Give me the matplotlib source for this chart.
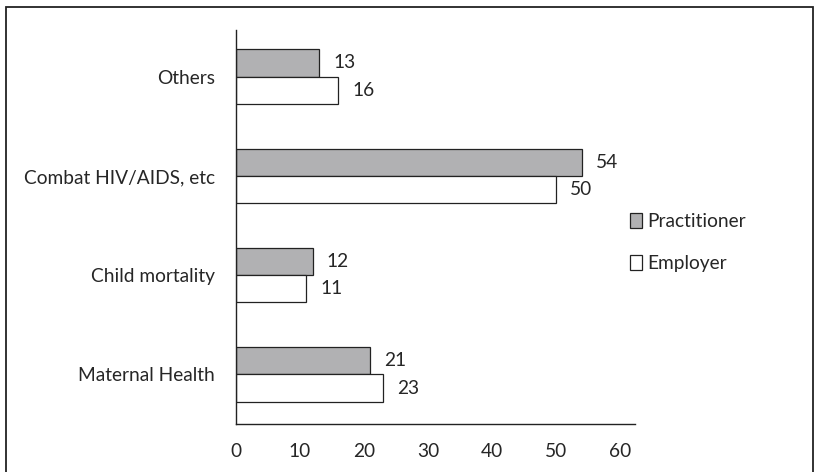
import matplotlib
matplotlib.use("Agg")
import matplotlib.pyplot as plt
import numpy as np
from matplotlib.patches import Rectangle

categories = ["Maternal Health", "Child mortality", "Combat HIV/AIDS, etc", "Others"]
practitioner = [21, 12, 54, 13]
employer = [23, 11, 50, 16]
xticks = [0, 10, 20, 30, 40, 50, 60]

plt.rcParams['font.family'] = ['Lato', 'DejaVu Sans']
FS = 13.8
TXT = "#262626"

W, H = 815, 472
fig = plt.figure(figsize=(W / 100, H / 100), dpi=100)
ax = fig.add_axes([236 / W, 1 - 424 / H, (635 - 236) / W, (424 - 30) / H])

# outer frame
fig.patches.append(Rectangle((6 / W, -0.05), (813 - 6) / W, 1.05 - 7 / H,
                             transform=fig.transFigure, fill=False,
                             edgecolor="#222222", linewidth=1.3))

y = np.arange(len(categories))
h = 0.275
bp = ax.barh(y + h / 2, practitioner, height=h, color="#b1b1b3",
             edgecolor="#222222", linewidth=0.9, label="Practitioner")
be = ax.barh(y - h / 2, employer, height=h, color="white",
             edgecolor="#222222", linewidth=0.9, label="Employer")

for bars, vals in ((bp, practitioner), (be, employer)):
    for b, v in zip(bars, vals):
        ax.text(v + 2.2, b.get_y() + b.get_height() / 2, str(v),
                va="center", ha="left", fontsize=FS, color=TXT)

ax.set_xlim(0, 62.3)
ax.set_ylim(-0.5, 3.47)
ax.set_yticks(y)
ax.set_yticklabels(categories, fontsize=FS, color=TXT)
ax.set_xticks(xticks)
ax.set_xticklabels([str(t) for t in xticks], fontsize=FS, color=TXT)
ax.tick_params(axis="both", length=0)
ax.tick_params(axis="y", pad=15)
ax.tick_params(axis="x", pad=13.5)
for s in ("top", "right"):
    ax.spines[s].set_visible(False)
for s in ("left", "bottom"):
    ax.spines[s].set_linewidth(1.0)
    ax.spines[s].set_color("#222222")

leg = fig.legend(handles=[bp, be], loc="upper left",
                 bbox_to_anchor=(613 / W, 1 - 196 / H), frameon=False,
                 fontsize=FS, handlelength=0.6, handleheight=0.8,
                 handletextpad=0.3, labelspacing=1.3)
for t in leg.get_texts():
    t.set_color(TXT)

fig.savefig("out.png", dpi=100)
